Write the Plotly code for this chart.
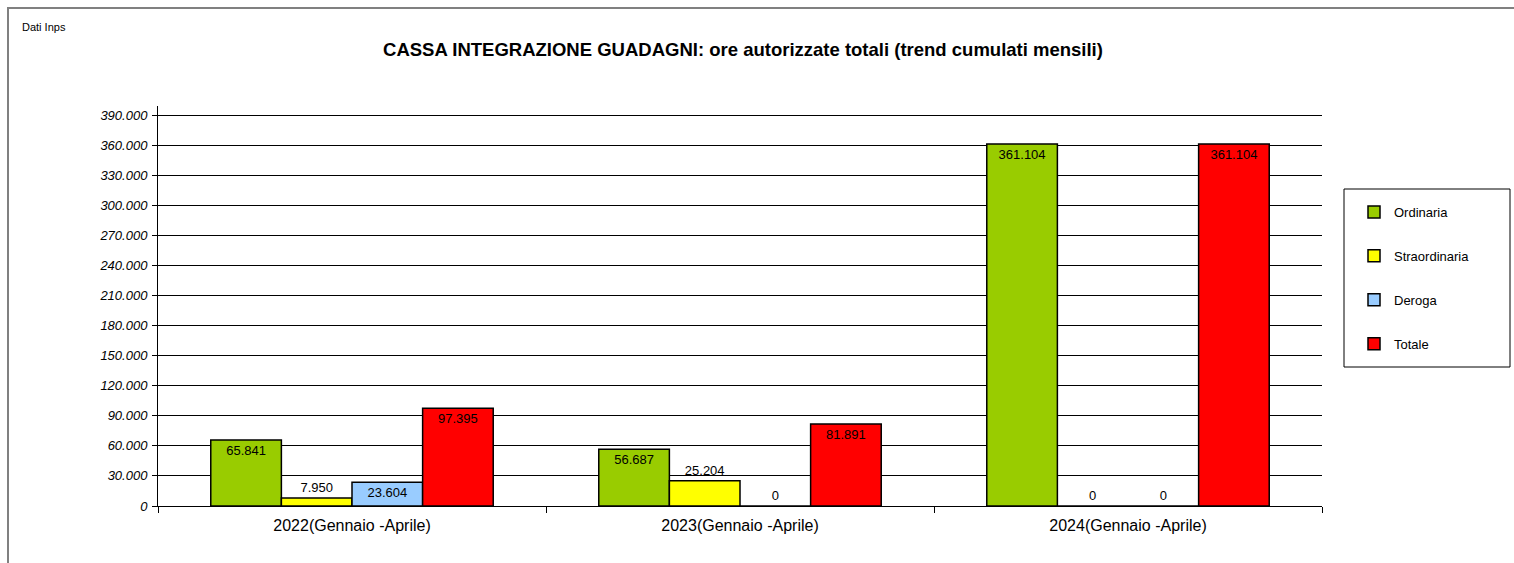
import plotly.graph_objects as go

categories = ["2022(Gennaio -Aprile)", "2023(Gennaio -Aprile)", "2024(Gennaio -Aprile)"]
ordinaria = [65841, 56687, 361104]
straordinaria = [7950, 25204, 0]
deroga = [23604, 0, 0]
totale = [97395, 81891, 361104]
y_ticks = list(range(0, 390001, 30000))

series = [
    ("Ordinaria", ordinaria, "#99CC00", "auto"),
    ("Straordinaria", straordinaria, "#FFFF00", "outside"),
    ("Deroga", deroga, "#99CCFF", "auto"),
    ("Totale", totale, "#FF0000", "auto"),
]

FONT = "Liberation Sans, Arial, sans-serif"

W, H = 1514, 563
L, R, T, B = 158, 1322, 106, 506  # plot area in pixels


def px(x):
    return (x - L) / (R - L)


def py(y):
    return (B - y) / (B - T)


fig = go.Figure()
for i, (name, vals, color, tpos) in enumerate(series):
    positions = ["outside" if v == 0 else tpos for v in vals]
    fig.add_trace(go.Bar(
        name=name, x=categories, y=vals,
        marker=dict(color=color, line=dict(color="black", width=1.5)),
        text=vals, texttemplate="%{y:,d}", textposition=positions,
        textangle=0, insidetextanchor="end",
        textfont=dict(family=FONT, size=13, color="black"),
        cliponaxis=False, legendgroup=name,
    ))

fig.update_layout(
    width=W, height=H,
    margin=dict(l=L, r=W - R, t=T, b=H - B, autoexpand=False),
    paper_bgcolor="white", plot_bgcolor="white",
    separators=",.",
    barmode="group", bargap=0.272, bargroupgap=0,
    font=dict(family=FONT, color="black"),
    title=dict(text="<b>CASSA INTEGRAZIONE GUADAGNI: ore autorizzate totali (trend cumulati mensili)</b>",
               x=px(743), xref="paper", xanchor="center",
               y=1 - 50 / H, yref="container", yanchor="middle",
               font=dict(family=FONT, size=18.5, color="black")),
    legend=dict(x=px(1354), y=py(197), xanchor="left", yanchor="top",
                font=dict(family=FONT, size=13, color="black"),
                bgcolor="rgba(0,0,0,0)", borderwidth=0,
                tracegroupgap=24, traceorder="grouped"),
    xaxis=dict(showline=True, linecolor="black", linewidth=1,
               ticks="outside", tickson="boundaries", ticklen=6, tickcolor="black",
               ticklabelstandoff=5,
               tickfont=dict(family=FONT, size=16, color="black"),
               showgrid=False),
    yaxis=dict(range=[0, 399000], tickvals=y_ticks, tickformat=",d",
               showline=True, linecolor="black", linewidth=1,
               ticks="outside", ticklen=5, tickcolor="black",
               ticklabelstandoff=2,
               tickfont=dict(family=FONT, size=13, color="black", style="italic"),
               showgrid=True, gridcolor="black", gridwidth=1,
               zeroline=False),
    annotations=[dict(text="Dati Inps", x=px(20), y=py(27), xref="paper", yref="paper",
                      xanchor="left", yanchor="middle", showarrow=False,
                      font=dict(family=FONT, size=11, color="black"))],
    shapes=[
        dict(type="rect", xref="paper", yref="paper",
             x0=px(1344), x1=px(1510), y0=py(367), y1=py(189),
             line=dict(color="black", width=1), fillcolor="rgba(0,0,0,0)", layer="above"),
        dict(type="rect", xref="paper", yref="paper",
             x0=px(8), x1=px(1530), y0=py(580), y1=py(8),
             line=dict(color="#808080", width=2), fillcolor="rgba(0,0,0,0)", layer="above"),
    ],
)

fig.write_html("out.html", config={"displayModeBar": False},
               post_script="document.body.style.margin='0';document.body.style.overflow='hidden';")
